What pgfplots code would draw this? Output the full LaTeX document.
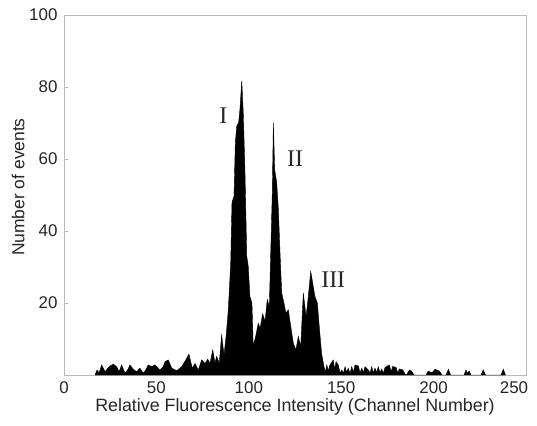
\documentclass[border=0pt]{standalone}
\usepackage{fontspec}
\setmainfont{Liberation Sans}
\newfontfamily\romanfont{Liberation Serif}
\usepackage{pgfplots}
\pgfplotsset{compat=1.18}

\begin{document}
\begin{tikzpicture}
\begin{axis}[
    name=main,
    scale only axis, width=462bp, height=360bp,
    xmin=0, xmax=250, ymin=0, ymax=100,
    xtick={0,50,...,250}, ytick={20,40,60,80,100},
    xticklabels={0,50,100,150,200,\hspace*{-24bp}250},
    xtick pos=bottom, ytick pos=left, tick align=inside,
    major tick length=4bp,
    axis line style={gray!55, line width=0.9pt},
    tick style={gray!55, line width=0.6pt},
    /pgf/number format/assume math mode=true,
    tick label style={font=\fontsize{17}{19}\selectfont, text=black!85},
    xticklabel style={yshift=-3bp},
    yticklabel style={xshift=-3bp},
    xlabel={Relative Fluorescence Intensity (Channel Number)},
    ylabel={Number of events},
    xlabel style={font=\fontsize{17.9}{19}\selectfont, text=black!85, yshift=2bp},
    ylabel style={font=\fontsize{17.5}{19}\selectfont, text=black!85,
        at={(axis description cs:-0.099,0.522)}, anchor=center},
]
% histogram (channel, events)
\addplot[fill=black, draw=black, line width=0.4pt] coordinates {
(16.8,0) (17.9,1.4) (19.0,0.6) (20.4,2.8) (22.2,0.9) (23.5,1.8) (24.9,2.5)
(26.7,3.0) (28.5,2.3) (29.8,0.9) (31.2,2.8) (33.0,0.5) (34.5,1.5) (35.7,2.8)
(37.5,1.6) (39.3,0.9) (41.1,1.9) (42.9,0.5) (44.3,1.5) (45.6,2.8) (47.5,2.3)
(49.2,2.8) (51.9,1.4) (53.5,2.2) (54.7,3.7) (56.4,4.2) (58.3,1.9) (61.0,1.2)
(63.7,2.3) (65.9,4.2) (67.6,5.8) (69.4,1.9) (70.9,3.2) (72.7,1.4) (74.5,4.2)
(76.3,3.2) (77.8,4.4) (79.0,3.2) (80.5,7.0) (81.7,3.3) (82.6,5.2) (84.0,3.3)
(85.3,11.1) (86.6,5.6) (87.7,10.7) (88.9,18.1) (90.2,31) (90.9,47.9) (92.0,49.7)
(92.7,64.6) (93.5,69.2) (94.5,70.1) (95.2,73.8) (96.2,81.7) (97.0,72.9) (97.9,57.1)
(98.9,33) (99.7,30.2) (100.6,21.8) (101.7,20) (102.4,7.9) (103.7,10.7) (105.1,14.4)
(106.1,13) (107.5,17) (108.8,15) (110.0,21) (111.1,19) (112.0,36.7) (112.7,50.6)
(113.3,70.1) (114.0,57.1) (115.1,53.4) (116.0,46) (116.9,33.9) (117.8,22.8) (119.0,20)
(120.1,17.2) (121.4,18.1) (122.7,13.5) (124.1,8.8) (125.5,7) (126.8,10.7) (128.1,7.9)
(129.5,22.8) (131.0,16.2) (132.2,21.8) (133.5,28.8) (134.6,25.5) (135.8,21.8) (137.1,20)
(138.2,13) (139.4,6) (140.7,2.3) (141.5,0.8) (142.2,2.8) (143.0,1.2) (143.9,2.8)
(145.7,4.2) (146.5,1.5) (147.2,3.7) (148.4,2.8) (149.4,0.6) (150.3,1.4) (151.2,0.5)
(152.1,2.3) (153.0,0.7) (153.8,1.9) (154.8,0.5) (155.7,2.3) (156.6,0.8) (157.5,2.8)
(159.3,2.5) (160.2,0.6) (161.1,1.9) (162.0,0.7) (162.9,2.3) (164.7,1.4) (165.6,0.5)
(166.5,2.3) (167.4,0.6) (168.3,1.9) (169.2,0.7) (170.1,2.3) (171.0,0.6) (171.9,1.7)
(172.8,0.5) (173.7,2.1) (176.0,2.8) (177.0,1.0) (177.9,2.4) (179.7,2.1) (180.6,0.6)
(181.4,1.7) (183.3,1.4) (184.5,0.3) (185.4,0) (186.9,1.4) (188.1,1.1) (189.4,0)
(195.9,0) (197.1,1.1) (199.1,0.6) (200.8,1.6) (203.1,1.1) (204.5,0) (206.7,0)
(208.0,1.6) (209.2,0) (216.5,0) (217.5,1.4) (218.3,0.5) (219.3,1.1) (220.2,0)
(225.6,0) (226.9,1.4) (228.1,0) (236.5,0) (237.7,1.6) (238.9,0)
} \closedcycle;
\node[font=\romanfont\fontsize{24}{24}\selectfont, text=black!85] at (axis cs:86.2,72) {I};
\node[font=\romanfont\fontsize{24}{24}\selectfont, text=black!85] at (axis cs:125,60) {II};
\node[font=\romanfont\fontsize{24}{24}\selectfont, text=black!85] at (axis cs:145.7,26.5) {III};
\end{axis}
\pgfresetboundingbox
\path[use as bounding box] ([shift={(-64bp,-51bp)}]main.south west) rectangle ++(537bp,426bp);
\end{tikzpicture}
\end{document}
